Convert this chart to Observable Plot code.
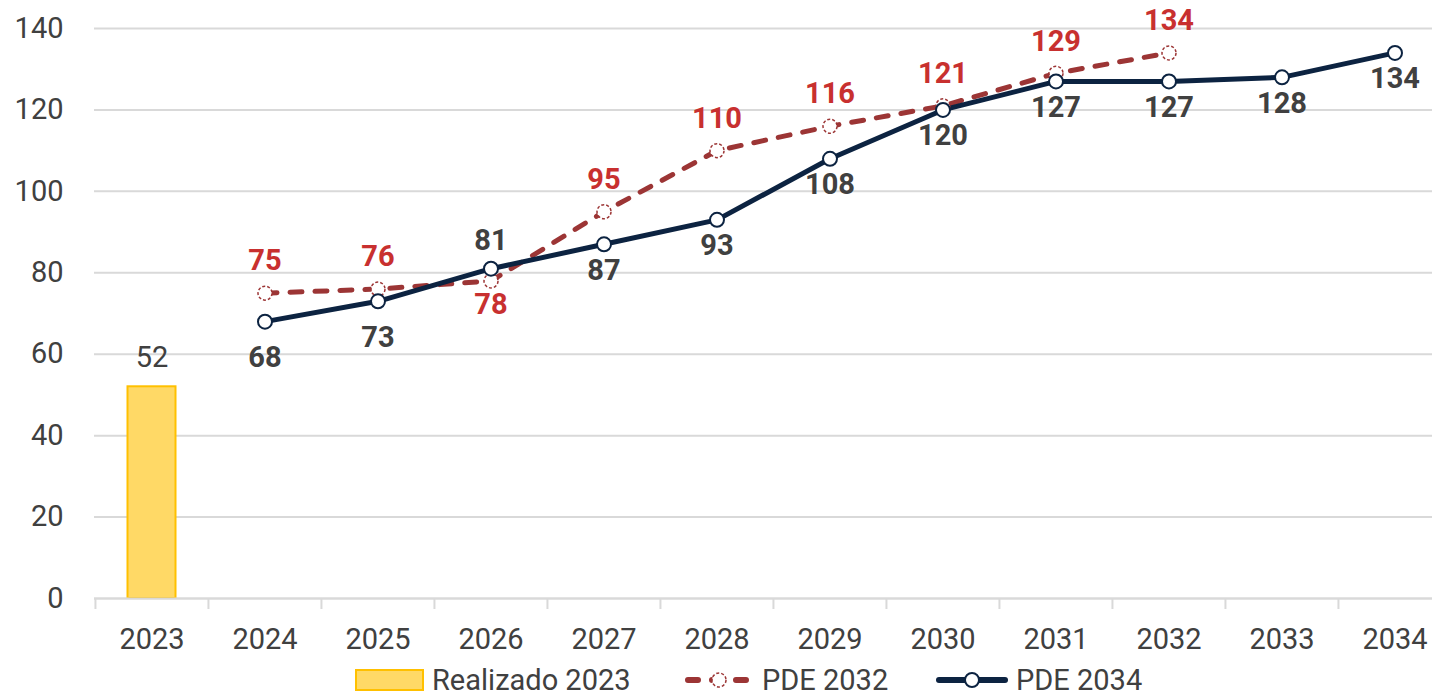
<!DOCTYPE html>
<html>
<head>
<meta charset="utf-8">
<script src="https://cdn.jsdelivr.net/npm/d3@7"></script>
<script src="https://cdn.jsdelivr.net/npm/@observablehq/plot@0.6"></script>
<style>
  body { margin: 0; background: #fff; font-family: Roboto, "Liberation Sans", sans-serif; overflow: hidden; }
  #chart svg { display: block; overflow: visible; }
  #legend { position: relative; height: 36px; width: 1432px; font-size: 29px; line-height: 32px; color: #404040; }
  .item { position: absolute; top: 2px; display: flex; align-items: center; height: 32px; }
  .item svg { display: block; margin-right: 8px; }
</style>
</head>
<body>
<div id="chart"></div>
<div id="legend"></div>
<script>
const years = ["2023","2024","2025","2026","2027","2028","2029","2030","2031","2032","2033","2034"];
const realizadoYears = ["2023"];
const realizadoValues = [52];
const pde2032Years = ["2024","2025","2026","2027","2028","2029","2030","2031","2032"];
const pde2032Values = [75, 76, 78, 95, 110, 116, 121, 129, 134];
const pde2034Years = ["2024","2025","2026","2027","2028","2029","2030","2031","2032","2033","2034"];
const pde2034Values = [68, 73, 81, 87, 93, 108, 120, 127, 127, 128, 134];
const yTicks = [0, 20, 40, 60, 80, 100, 120, 140];
const seriesNames = ["Realizado 2023", "PDE 2032", "PDE 2034"];

const bars = realizadoYears.map((y, i) => ({year: y, value: realizadoValues[i]}));
const s32 = pde2032Years.map((y, i) => ({year: y, value: pde2032Values[i]}));
const s34 = pde2034Years.map((y, i) => ({year: y, value: pde2034Values[i]}));

// label placement groups
const redBelow = new Set(["2026"]);
const navyAbove = new Set(["2026"]);
const navyFar = new Set(["2024", "2025"]);

const NAVY = "#0c2341";
const RED = "#9c3535";
const REDTXT = "#c8302f";
const GREY = "#404040";
const FONT = "Roboto, 'Liberation Sans', sans-serif";

const xRange = [94, 1451];
const step = (xRange[1] - xRange[0]) / years.length;

const label = (data, filter, dy, fill) =>
  Plot.text(data, {filter, x: "year", y: "value", text: d => String(d.value), dy, fontSize: 29, fontWeight: "bold", fill});

const chart = Plot.plot({
  width: 1432,
  height: 662,
  marginLeft: 94,
  marginRight: 0,
  marginTop: 28,
  marginBottom: 64,
  style: {fontFamily: FONT, overflow: "visible"},
  x: {type: "band", domain: years, range: xRange, padding: 0},
  y: {domain: [0, 140], ticks: yTicks},
  marks: [
    Plot.gridY(yTicks, {stroke: "#d9d9d9", strokeOpacity: 1, strokeWidth: 2}),
    Plot.axisY(yTicks, {tickSize: 0, tickPadding: 31, fontSize: 29, fill: GREY, label: null}),
    Plot.axisX({tickSize: 0, tickPadding: 30, fontSize: 29, fill: GREY, label: null}),
    Plot.ruleX(years, {x: d => d, dx: -step / 2, y1: 0, y2: 0, insetBottom: -11, stroke: "#d9d9d9", strokeWidth: 2}),
    Plot.barY(bars, {x: "year", y: "value", fill: "#ffd966", stroke: "#ffc000", strokeWidth: 2, insetLeft: 32.5, insetRight: 32.5}),
    Plot.text(bars, {x: "year", y: "value", text: d => String(d.value), dy: -29, fontSize: 29, fill: GREY}),
    Plot.ruleY([0], {stroke: "#d9d9d9", strokeWidth: 2}),
    Plot.lineY(s32, {x: "year", y: "value", stroke: RED, strokeWidth: 5, strokeDasharray: "12,13", strokeLinecap: "round"}),
    Plot.lineY(s34, {x: "year", y: "value", stroke: NAVY, strokeWidth: 5}),
    Plot.dot(s32, {x: "year", y: "value", r: 7, fill: "white", stroke: RED, strokeWidth: 1.5, strokeDasharray: "3,2"}),
    Plot.dot(s34, {x: "year", y: "value", r: 7, fill: "white", stroke: NAVY, strokeWidth: 2}),
    label(s32, d => !redBelow.has(d.year), -32, REDTXT),
    label(s32, d => redBelow.has(d.year), 24, REDTXT),
    label(s34, d => navyAbove.has(d.year), -28, GREY),
    label(s34, d => !navyAbove.has(d.year) && navyFar.has(d.year), 36, GREY),
    label(s34, d => !navyAbove.has(d.year) && !navyFar.has(d.year), 26, GREY)
  ]
});
document.getElementById("chart").appendChild(chart);

const legend = document.getElementById("legend");
const items = [
  {left: 355, sym: `<svg width="69" height="22"><rect x="1" y="1" width="67" height="20" fill="#ffd966" stroke="#ffc000" stroke-width="2"/></svg>`},
  {left: 684, sym: `<svg width="70" height="22"><line x1="4" y1="11" x2="66" y2="11" stroke="${RED}" stroke-width="6" stroke-linecap="round" stroke-dasharray="10,14"/><circle cx="35" cy="11" r="7" fill="white" stroke="${RED}" stroke-width="1.5" stroke-dasharray="3,2"/></svg>`},
  {left: 936, sym: `<svg width="72" height="22"><line x1="3" y1="11" x2="69" y2="11" stroke="${NAVY}" stroke-width="6" stroke-linecap="round"/><circle cx="36" cy="11" r="7" fill="white" stroke="${NAVY}" stroke-width="2"/></svg>`}
];
items.forEach((it, i) => {
  const d = document.createElement("div");
  d.className = "item";
  d.style.left = it.left + "px";
  d.innerHTML = it.sym + `<span>${seriesNames[i]}</span>`;
  legend.appendChild(d);
});
</script>
</body>
</html>
